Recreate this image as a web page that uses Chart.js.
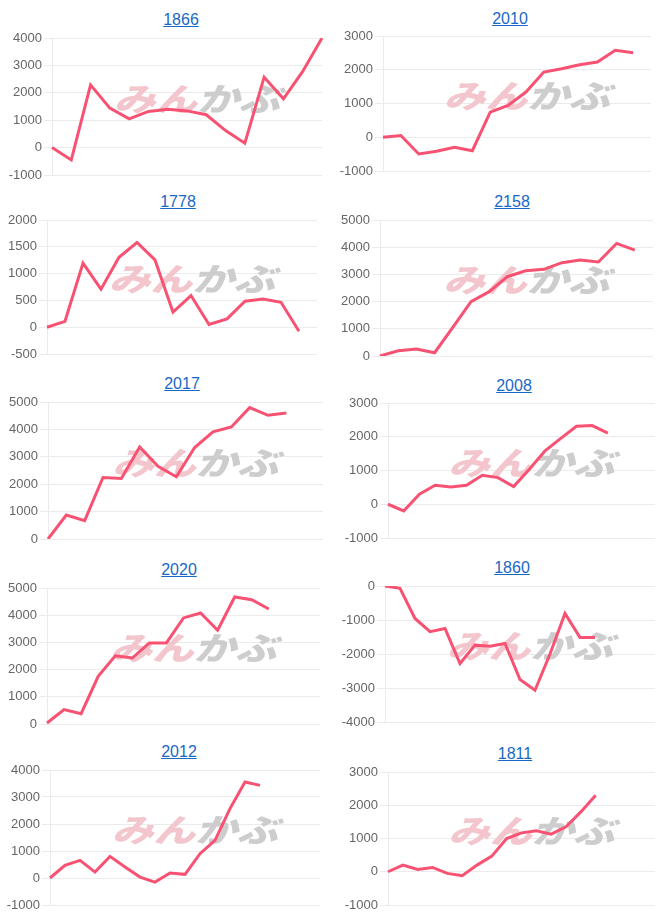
<!DOCTYPE html>
<html>
<head>
<meta charset="utf-8">
<script src="https://cdn.jsdelivr.net/npm/chart.js@4.4.0/dist/chart.umd.min.js"></script>
<style>
    body { margin: 0; background: #fff; width: 666px; height: 917px; position: relative; overflow: hidden; font-family: "Liberation Sans", Arial, sans-serif; }
    .ttl { position: absolute; transform: translateX(-50%); color: #1a68c6; font-size: 16px; line-height: 16px; text-decoration: underline; white-space: nowrap; }
    canvas { position: absolute; }
</style>
</head>
<body>
<script>
// codes shown as chart titles, row by row
const titles = ['1866', '2010', '1778', '2158', '2017', '2008', '2020', '1860', '2012', '1811'];

// x categories (hidden on the axis), each chart uses the first N
const periods = ['1', '2', '3', '4', '5', '6', '7', '8', '9', '10', '11', '12', '13', '14', '15', '16', '17', '18', '19'];
const slots = [15, 16, 16, 16, 16, 18, 17, 19, 19, 19];

// values
const s1866 = [0, -450, 2290, 1440, 1050, 1320, 1400, 1340, 1200, 620, 160, 2570, 1780, 2780, 4000];
const s2010 = [0, 50, -495, -415, -300, -400, 745, 940, 1340, 1930, 2030, 2150, 2230, 2575, 2505];
const s1778 = [0, 110, 1195, 710, 1305, 1580, 1255, 280, 590, 50, 155, 485, 525, 465, -75];
const s2158 = [0, 195, 260, 120, 1055, 2000, 2365, 2915, 3135, 3185, 3430, 3530, 3455, 4140, 3895];
const s2017 = [0, 875, 670, 2245, 2210, 3360, 2655, 2270, 3340, 3910, 4090, 4795, 4515, 4600];
const s2008 = [0, -200, 300, 565, 515, 565, 860, 790, 525, 1040, 1585, 1950, 2310, 2330, 2110];
const s2020 = [35, 530, 380, 1750, 2510, 2425, 2980, 2980, 3900, 4080, 3445, 4670, 4570, 4230];
const s1860 = [0, -70, -955, -1345, -1250, -2280, -1740, -1770, -1690, -2750, -3065, -2000, -805, -1515, -1515];
const s2012 = [0, 470, 655, 220, 800, 405, 35, -150, 185, 135, 900, 1395, 2570, 3555, 3430];
const s1811 = [0, 200, 70, 130, -50, -120, 200, 470, 1000, 1170, 1230, 1130, 1350, 1800, 2300];
const series = [s1866, s2010, s1778, s2158, s2017, s2008, s2020, s1860, s2012, s1811];

// y tick range per chart
const yMin = [-1000, -1000, -500, 0, 0, -1000, 0, -4000, -1000, -1000];
const yMax = [4000, 3000, 2000, 5000, 5000, 3000, 5000, 0, 4000, 3000];
const yStep = [1000, 1000, 500, 1000, 1000, 1000, 1000, 1000, 1000, 1000];

// layout: title centre [x, y] and plot box [left, top, right, bottom]
const titlePos = [[181, 20], [510, 19], [178, 202], [512, 202], [182, 384], [514, 386], [179, 570], [512, 568], [179, 752], [515, 754]];
const plotBox = [
    [52, 38, 322, 175], [383, 36, 651, 171],
    [47, 220, 317, 354], [380, 220, 653, 356],
    [48, 402, 323, 539], [388, 403, 655, 538],
    [47, 588, 320, 724], [385, 586, 655, 722],
    [50, 770, 320, 905], [388, 772, 655, 905]
];

// watermark painted behind the line
const watermark = {
    id: 'watermark',
    beforeDatasetsDraw(chart) {
        const { ctx, chartArea: a } = chart;
        const cx = (a.left + a.right) / 2 + 10;
        const cy = (a.top + a.bottom) / 2 - 9;
        ctx.save();
        ctx.translate(cx, cy);
        ctx.scale(1.3, 1);
        ctx.font = 'italic 900 32px "Noto Sans CJK JP"';
        ctx.textBaseline = 'middle';
        const w1 = ctx.measureText('みん').width;
        const w2 = ctx.measureText('かぶ').width;
        const x = -(w1 + w2) / 2;
        ctx.fillStyle = '#f2c6cc';
        ctx.fillText('みん', x, 1);
        ctx.fillStyle = '#cdcdcd';
        ctx.fillText('かぶ', x + w1, 1);
        ctx.restore();
    }
};

titles.forEach((t, i) => {
    const col = i % 2;
    const [L, T, R, B] = plotBox[i];
    const cellLeft = col * 333;

    const a = document.createElement('a');
    a.className = 'ttl';
    a.href = '#';
    a.textContent = t;
    a.style.left = titlePos[i][0] + 'px';
    a.style.top = (titlePos[i][1] - 8) + 'px';
    document.body.appendChild(a);

    const cv = document.createElement('canvas');
    cv.width = 333;
    cv.height = B - T + 20;
    cv.style.left = cellLeft + 'px';
    cv.style.top = (T - 10) + 'px';
    document.body.appendChild(cv);

    const yWidth = L - cellLeft;

    new Chart(cv.getContext('2d'), {
        type: 'line',
        data: {
            labels: periods.slice(0, slots[i]),
            datasets: [{
                data: series[i],
                borderColor: 'rgb(248, 82, 115)',
                borderWidth: 3,
                pointRadius: 0,
                tension: 0,
                fill: false
            }]
        },
        options: {
            responsive: false,
            animation: false,
            layout: { padding: { left: 0, right: cellLeft + 333 - R, top: 10, bottom: 10 } },
            plugins: { legend: { display: false }, tooltip: { enabled: false } },
            scales: {
                x: { display: false },
                y: {
                    min: yMin[i],
                    max: yMax[i],
                    ticks: {
                        stepSize: yStep[i],
                        color: '#666',
                        padding: 2,
                        font: { family: '"Liberation Sans", Arial, sans-serif', size: 13 },
                        callback: v => String(v)
                    },
                    grid: { color: '#ebebeb', tickLength: 8 },
                    border: { color: '#ebebeb' },
                    afterFit: s => { s.width = yWidth; }
                }
            }
        },
        plugins: [watermark]
    });
});
</script>
</body>
</html>
